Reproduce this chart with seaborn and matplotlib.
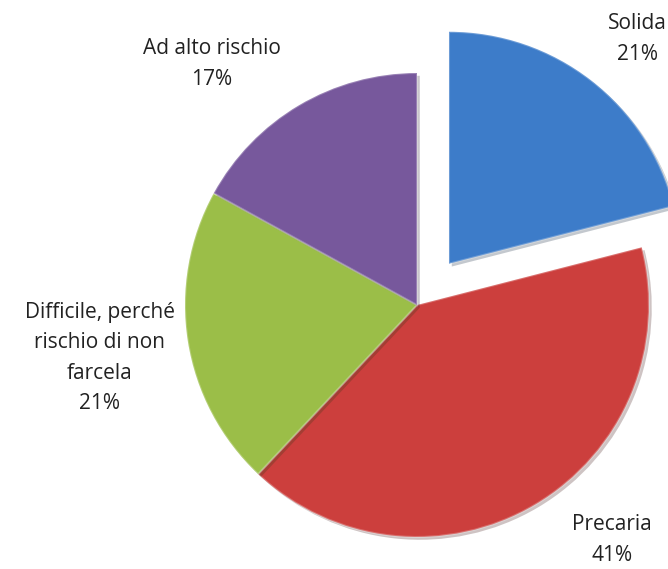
import seaborn as sns
import matplotlib.pyplot as plt
import matplotlib.patheffects as pe

sns.set_theme(style="white")
plt.rcParams["font.family"] = ["Open Sans", "DejaVu Sans"]

categories = ["Solida", "Precaria", "Difficile, perché\nrischio di non\nfarcela", "Ad alto rischio"]
shares = [21, 41, 21, 17]
colors = ["#3D7CC9", "#CC3F3D", "#9BBE48", "#77589C"]

# label anchors in pixel space (x, y from top)
label_pos = [(637, 39), (612, 540), (100, 358), (212, 64)]

W, H = 668, 569
R = 232
fig = plt.figure(figsize=(W / 100, H / 100), dpi=100)
ax = fig.add_axes([0, 0, 1, 1])

# explode is in data units here, so scale with the radius
explode = [0.225 * R, 0, 0, 0]

wedges, _ = ax.pie(
    shares,
    colors=colors,
    explode=explode,
    startangle=90,
    counterclock=False,
    center=(417, H - 305),
    radius=R,
    frame=True,
    wedgeprops=dict(linewidth=1.5, edgecolor="#ffffff40"),
)
for w in wedges:
    w.set_path_effects([pe.SimplePatchShadow(offset=(2, -2), alpha=0.25), pe.Normal()])

for name, val, (x, y) in zip(categories, shares, label_pos):
    ax.text(x, H - y, f"{name}\n{val}%", ha="center", va="center",
            fontsize=15, color="#222222", linespacing=1.6)

ax.set_xlim(0, W)
ax.set_ylim(0, H)
ax.set_aspect("equal")
ax.axis("off")

fig.savefig("out.png", dpi=100)
